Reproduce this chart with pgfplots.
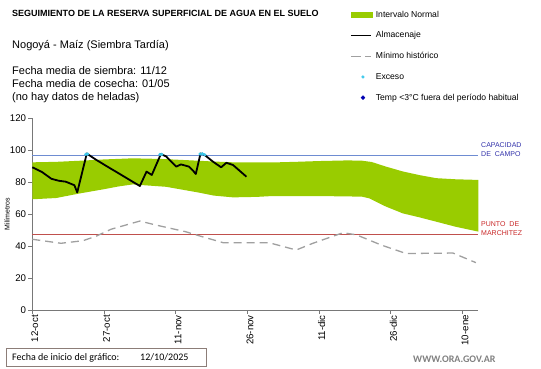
\documentclass[border=0pt]{standalone}
\usepackage{fontspec}
\setmainfont{Liberation Sans}
\newfontfamily\calibri{Carlito}
\usepackage{pgfplots}
\pgfplotsset{compat=1.18}
\definecolor{bandgreen}{RGB}{153,204,0}
\definecolor{capline}{RGB}{110,140,210}
\definecolor{captext}{RGB}{50,50,170}
\definecolor{wiltline}{RGB}{192,80,77}
\definecolor{wilttext}{RGB}{200,40,40}
\definecolor{excess}{RGB}{60,200,235}
\definecolor{mingray}{RGB}{160,160,160}
\definecolor{axgray}{RGB}{120,120,120}
\definecolor{boxline}{RGB}{140,125,120}
\begin{document}
\begin{tikzpicture}[x=1pt,y=1pt]
\path[use as bounding box] (0,0) rectangle (541,368);
\begin{axis}[
  at={(32.3pt,58pt)}, anchor=south west,
  scale only axis, width=446pt, height=192pt,
  xmin=0, xmax=93.3, ymin=0, ymax=120,
  axis lines=left,
  axis line style={-, axgray, line width=0.9pt},
  tick style={axgray, line width=0.8pt},
  tick align=outside, major tick length=4pt,
  xtick={0,15,30,45,60,75,90},
  xticklabels={12-oct,27-oct,11-nov,26-nov,11-dic,26-dic,10-ene},
  xticklabel style={rotate=90, anchor=east, font=\fontsize{9.7}{11}\selectfont, inner sep=1pt, yshift=-2.5pt},
  ytick={0,20,...,120},
  yticklabel style={font=\fontsize{9.7}{11}\selectfont, inner sep=2pt},
  /pgf/number format/assume math mode=true,
  legend style={at={(0.712,1.569)}, anchor=north west, draw=none, fill=none,
    font=\fontsize{8.6}{10}\selectfont, row sep=9pt, inner sep=0pt},
  legend cell align=left,
  clip=false,
]
\addplot[fill=bandgreen, draw=none,
  legend image code/.code={\fill[bandgreen] (0pt,-3pt) rectangle (22pt,3pt);}]
  coordinates {(0,92.3) (5,92.6) (10,93.3) (15,94.1) (21,94.8) (27,94.4) (32,93.7) (38,92.8) (42,92.3) (50,92.2) (55,92.6) (60,93.1) (66,93.5) (69,93.3) (71,92.5) (74,89.6) (77.5,86.6) (81,84.3) (84.5,82.4) (88.6,81.7) (93.3,81.3)
  (93.3,49) (88.6,52) (84.5,55.2) (81,57.9) (77.5,60.4) (74,64.6) (70.5,69.8) (69,70.8) (66,71) (60,71.2) (55,71.2) (50,71.2) (47,70.7) (42,70.4) (38,71.5) (35,73.3) (28,77) (21,78.5) (18,77.2) (15,75.5) (10,72.9) (5,70) (0,69.2)} -- cycle;
\addlegendentry{Intervalo Normal}
\addplot[capline, line width=0.8pt, forget plot] coordinates {(0,96.8) (93.3,96.8)};
\addplot[wiltline, line width=0.8pt, forget plot] coordinates {(0,47.2) (93.3,47.2)};
\addplot[black, line width=1.8pt, line join=round,
  legend image code/.code={\draw[black, line width=1.8pt] (0pt,0pt) -- (20pt,0pt); \path (22pt,0pt);}]
  coordinates {(0,89.2) (2,86.3) (4,82) (5.5,80.8) (7,80.2) (8.8,78) (9.4,73.5) (11.4,97.8) (13.4,93.8) (15.5,90) (22.5,77.5) (23.9,86.5) (25,84.4) (26.9,97.5) (28,96) (30.1,89.6) (31.1,91) (32.8,89.6) (33.8,86.5) (34.2,85) (35.2,97.9) (36,97) (37.8,92.7) (39.5,89.2) (40.6,92) (42,90.6) (44.8,83.3)};
\addlegendentry{Almacenaje}
\addplot[mingray, line width=1.3pt, dash pattern=on 8pt off 5pt,
  legend image code/.code={\draw[mingray, line width=1.3pt, dash pattern=on 10pt off 4pt] (0pt,0pt) -- (20pt,0pt); \path (22pt,0pt);}]
  coordinates {(0,44.2) (6,41.7) (10.6,43.3) (13.4,46.2) (16.5,50.5) (22.5,55.6) (26,53) (32,49) (35,46.3) (40,42) (49.6,42) (55.2,37.5) (58.7,41.7) (65,48.3) (67.8,47) (73,40.6) (78.2,35.3) (88,35.6) (92.8,29.6)};
\addlegendentry{M\'inimo hist\'orico}
\addplot[only marks, mark=*, mark size=1.4pt, excess,
  legend image code/.code={\path (0pt,0pt) (22pt,0pt); \fill[excess] (12pt,0pt) circle (1.4pt);}]
  coordinates {(11.2,97.3) (11.6,97.5) (26.7,97.2) (27.1,97.3) (35.1,97.5) (35.6,97.6) (36.1,97)};
\addlegendentry{Exceso}
\addlegendimage{legend image code/.code={\path (0pt,0pt) (22pt,0pt); \fill[blue!70!black] (12pt,2pt) -- (14pt,0pt) -- (12pt,-2pt) -- (10pt,0pt) -- cycle;}}
\addlegendentry{Temp <3°C fuera del período habitual}
\end{axis}
\node[anchor=west, inner sep=0pt] at (12,355) {\bfseries\fontsize{9}{10}\selectfont SEGUIMIENTO DE LA RESERVA SUPERFICIAL DE AGUA EN EL SUELO};
\node[anchor=west, inner sep=0pt] at (12,322) {\fontsize{11}{13}\selectfont Nogoyá - Maíz (Siembra Tardía)};
\node[anchor=west, inner sep=0pt] at (12,297) {\fontsize{11}{13}\selectfont Fecha media de siembra: 11/12};
\node[anchor=west, inner sep=0pt] at (12,284) {\fontsize{11}{13}\selectfont Fecha media de cosecha: 01/05};
\node[anchor=west, inner sep=0pt] at (12,270) {\fontsize{11}{13}\selectfont (no hay datos de heladas)};
\node[rotate=90, inner sep=0pt] at (7,154) {\fontsize{7}{8}\selectfont Milímetros};
\node[anchor=west, inner sep=0pt, text=captext] at (481,223) {\fontsize{7}{8}\selectfont CAPACIDAD};
\node[anchor=west, inner sep=0pt, text=captext] at (481,214) {\fontsize{7}{8}\selectfont DE\ \ CAMPO};
\node[anchor=west, inner sep=0pt, text=wilttext] at (481,144) {\fontsize{7}{8}\selectfont PUNTO\ \ DE};
\node[anchor=west, inner sep=0pt, text=wilttext] at (481,135) {\fontsize{7}{8}\selectfont MARCHITEZ};
\draw[boxline, line width=0.8pt] (6,1.5) rectangle (206,20);
\node[anchor=west, inner sep=0pt] at (12,10.5) {\calibri\fontsize{10}{12}\selectfont Fecha de inicio del gráfico:};
\node[anchor=west, inner sep=0pt] at (140,10.5) {\calibri\fontsize{10}{12}\selectfont 12/10/2025};
\node[anchor=west, inner sep=0pt, text=gray] at (413,9) {\calibri\bfseries\fontsize{10}{12}\selectfont WWW.ORA.GOV.AR};
\end{tikzpicture}
\end{document}
